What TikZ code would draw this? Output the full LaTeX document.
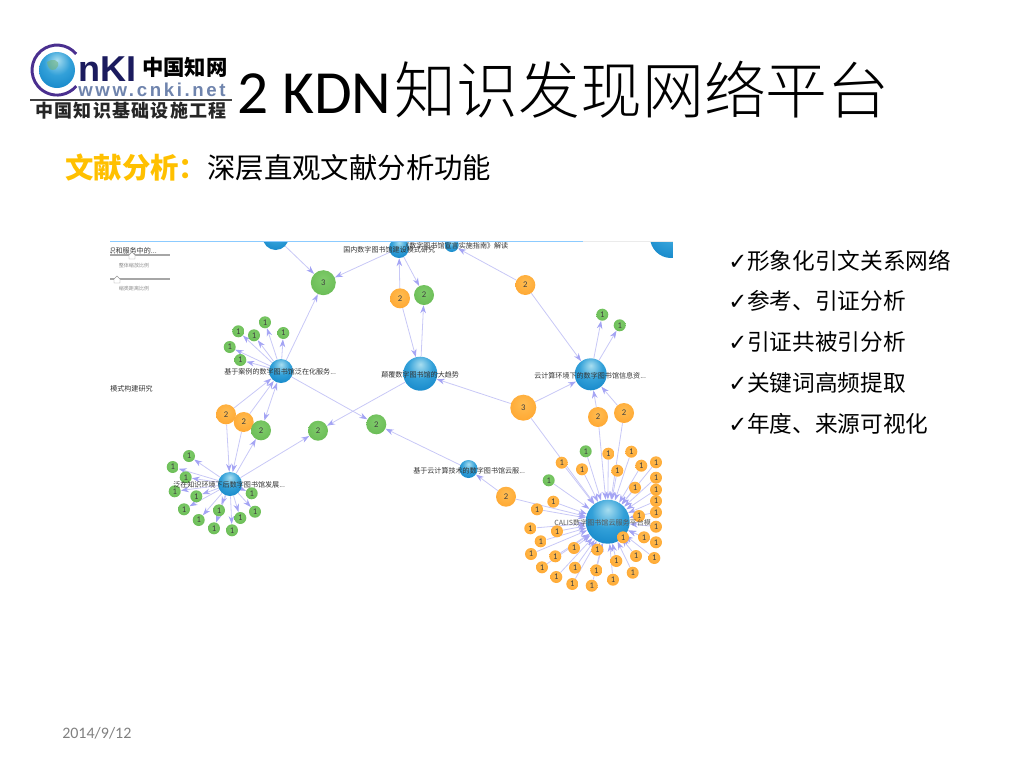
\documentclass[tikz,border=0pt]{standalone}
\usepackage{fontspec}
\usetikzlibrary{arrows.meta,backgrounds}
\setmainfont{Carlito}
\newfontfamily\cjk{Noto Sans CJK SC}
\newfontfamily\cjklight{Noto Sans CJK SC Light}
\newfontfamily\dejavu{DejaVu Sans}
\newfontfamily\libsans{Liberation Sans}
\definecolor{gold}{HTML}{FFC000}
\definecolor{edgecol}{HTML}{C8C8F6}
\definecolor{tipcol}{HTML}{A4A4F4}
\definecolor{logoviolet}{HTML}{4A2F8F}
\definecolor{logonavy}{HTML}{1B1B5E}
\definecolor{logourl}{HTML}{6F84AD}
\pgfdeclareradialshading{bluebub}{\pgfpoint{0bp}{14bp}}{rgb(0bp)=(.66,.87,.94);rgb(18bp)=(.2,.63,.85);rgb(45bp)=(.02,.48,.76);rgb(80bp)=(.02,.48,.76)}
\pgfdeclareradialshading{greenbub}{\pgfpoint{0bp}{8bp}}{rgb(0bp)=(.50,.80,.42);rgb(30bp)=(.42,.74,.34);rgb(70bp)=(.36,.70,.30)}
\pgfdeclareradialshading{orangebub}{\pgfpoint{0bp}{8bp}}{rgb(0bp)=(1,.74,.32);rgb(30bp)=(1,.66,.20);rgb(70bp)=(1,.62,.14)}
\tikzset{
  x=0.75pt,y=-0.75pt,
  bub/.style={circle,inner sep=0pt,text=black!75,font=\fontsize{6.5}{6.5}\selectfont},
  bluehub/.style={bub,shading=bluebub,minimum size=#1*1.5pt},
  greenb/.style={bub,shading=greenbub,minimum size=#1*1.5pt},
  orangeb/.style={bub,shading=orangebub,minimum size=#1*1.5pt},
  edge/.style={draw=edgecol,line width=0.6pt,-{Stealth[length=6pt,width=4.2pt,color=tipcol]}},
  biedge/.style={draw=edgecol,line width=0.6pt,{Stealth[length=6pt,width=4.2pt,color=tipcol]}-{Stealth[length=6pt,width=4.2pt,color=tipcol]}},
  lab/.style={inner sep=0pt,text=black!80,font=\cjk\fontsize{5.3}{5.3}\selectfont},
  slidertext/.style={inner sep=0pt,text=black!45,font=\cjk\fontsize{3.8}{4}\selectfont},
  sliderline/.style={draw=black!35,line width=0.8pt},
  bullet/.style={inner sep=0pt,anchor=west,font=\cjk\fontsize{17}{17}\selectfont},
}
\begin{document}
\begin{tikzpicture}
\useasboundingbox (0,0) rectangle (1024,768);

% ---------- hubs
\node[bluehub=13] (tophub) at (275.7,237) {};
\node[bluehub=10] (guonei) at (399,248) {};
\node[bluehub=7]  (xuanyan) at (451.7,245) {};
\node[bluehub=21] (corner) at (671,237) {};
\node[bluehub=12] (fanzai) at (281,371) {};
\node[bluehub=17] (dianfu) at (420.3,373.7) {};
\node[bluehub=16] (yunji) at (590.7,374.3) {};
\node[bluehub=9]  (yunfu) at (468.5,469) {};
\node[bluehub=12] (houshuzi) at (230,484) {};
\node[bluehub=22] (calis) at (607.7,521.7) {};

% ---------- larger numbered nodes
\node[greenb=12.5] (gthree) at (323.3,282.7) {3};
\node[orangeb=10] (otop) at (400,298.3) {2};
\node[greenb=10] (gtop) at (424,295) {2};
\node[orangeb=10] (oright) at (525.3,285) {2};
\node[orangeb=13] (othree) at (523.3,407.7) {3};
\node[orangeb=10] (oa) at (598,417) {2};
\node[orangeb=10] (ob) at (624,413) {2};
\node[orangeb=10] (oc) at (226,414.3) {2};
\node[orangeb=10] (od) at (243.7,422) {2};
\node[greenb=10] (ga) at (261,430.3) {2};
\node[greenb=10] (gb) at (318,430.7) {2};
\node[greenb=10] (gc) at (376.3,424.3) {2};
\node[orangeb=10] (oe) at (506,496.7) {2};

% ---------- small leaves
\foreach \x/\y [count=\n] in {265/322.3,238.3/331.3,254/335.3,283.3/333,229.7/347,240.3/360}
  \node[greenb=6] (fl\n) at (\x,\y) {1};
\foreach \x/\y [count=\n] in {602.3/314.7,619.7/325.3}
  \node[greenb=6] (yl\n) at (\x,\y) {1};
\foreach \x/\y [count=\n] in {189/456,172.7/467,185.7/477.3,174.7/491.3,196.3/496.3,184/509.3,198.7/520,214/528.3,219/510.3,232/530.3,240.3/518,255/511.7,251.7/493.3}
  \node[greenb=6] (hl\n) at (\x,\y) {1};
\foreach \x/\y [count=\n] in {585.7/451.3,548.7/480.3}
  \node[greenb=6] (cg\n) at (\x,\y) {1};
\foreach \x/\y [count=\n] in {561.7/462.7,608.3/453.7,631.3/451.7,656/462.3,641.3/465.7,582/469.3,617.3/470.7,656/477.7,635/487.7,656/489.7,656/501,553.3/501.7,537/509.3,656/512.3,639/516,656/526.7,530.3/528.3,557/531.3,644/537.3,623/537.3,540.7/541.3,656/542.3,574/548,597.3/549.7,531/554,555.3/556.3,636/556,654.3/558,616.3/561,542/567.3,575/567.7,596.3/570.3,632.7/572.7,556.3/577,613/579.7,572.3/584,591.7/585.7}
  \node[orangeb=6] (cl\n) at (\x,\y) {1};

% ---------- connectors
\begin{pgfonlayer}{background}
\foreach \n in {1,...,6} \draw[edge] (fanzai) -- (fl\n);
\foreach \n in {1,2} \draw[edge] (yunji) -- (yl\n);
\foreach \n in {1,...,13} \draw[edge] (houshuzi) -- (hl\n);
\foreach \n in {1,2} \draw[edge] (cg\n) -- (calis);
\foreach \n in {1,...,37} \draw[edge] (cl\n) -- (calis);
\draw[edge] (tophub) -- (gthree);
\draw[edge] (guonei) -- (gthree);
\draw[edge] (fanzai) -- (gthree);
\draw[edge] (otop) -- (guonei);
\draw[edge] (guonei) -- (gtop);
\draw[edge] (otop) -- (dianfu);
\draw[edge] (dianfu) -- (gtop);
\draw[edge] (oright) -- (xuanyan);
\draw[edge] (oright) -- (yunji);
\draw[edge] (othree) -- (dianfu);
\draw[edge] (othree) -- (yunji);
\draw[edge] (othree) -- (calis);
\draw[edge] (oa) -- (yunji);
\draw[edge] (ob) -- (yunji);
\draw[edge] (oa) -- (calis);
\draw[edge] (ob) -- (calis);
\draw[edge] (oc) -- (fanzai);
\draw[edge] (od) -- (fanzai);
\draw[biedge] (fanzai) -- (ga);
\draw[edge] (oc) -- (houshuzi);
\draw[edge] (od) -- (houshuzi);
\draw[edge] (houshuzi) -- (ga);
\draw[edge] (houshuzi) -- (gb);
\draw[edge] (dianfu) -- (gb);
\draw[edge] (fanzai) -- (gc);
\draw[edge] (yunfu) -- (gc);
\draw[edge] (oe) -- (yunfu);
\draw[edge] (oe) -- (calis);
\end{pgfonlayer}

% ---------- graph labels
\node[lab,anchor=east] (tl) at (157,251) {知识和服务中的...};
\node[lab,anchor=west] (tg) at (343,250) {国内数字图书馆建设模式研究};
\node[lab,anchor=west] (tx) at (402,246) {《数字图书馆宣言实施指南》解读};
\node[lab,anchor=west] (tf) at (224,372) {基于案例的数字图书馆泛在化服务...};
\node[lab,anchor=west] (td) at (381,375) {颠覆数字图书馆的大趋势};
\node[lab,anchor=west] (ty) at (534,376) {云计算环境下的数字图书馆信息资...};
\node[lab,anchor=west] (tm) at (110,389) {模式构建研究};
\node[lab,anchor=west] (tu) at (413,471) {基于云计算技术的数字图书馆云服...};
\node[lab,anchor=west] (th) at (173,485) {泛在知识环境下后数字图书馆发展...};
\node[lab,anchor=west,text=black!65] (tc) at (554,523) {CALIS数字图书馆云服务平台模};

% ---------- masks that crop the screenshot
\fill[white] (95,205) rectangle (700,241);
\fill[white] (673,205) rectangle (700,300);
\fill[white] (90,241) rectangle (110,262);
\draw[draw=black!8,line width=0.4pt] (110,241.3) -- (673,241.3);
\draw[draw=blue!45!cyan!45,line width=0.6pt] (110,241.3) -- (583,241.3);

% ---------- sliders
\coordinate (s1a) at (110,255); \coordinate (s1b) at (170,255);
\coordinate (s2a) at (110,279); \coordinate (s2b) at (170,279);
\draw[sliderline] (s1a) -- (s1b);
\draw[sliderline] (s2a) -- (s2b);
\fill[white,draw=black!40,line width=0.3pt] (129,259) -- (135,259) -- (135,255) -- (132,252) -- (129,255) -- cycle;
\fill[white,draw=black!40,line width=0.3pt] (114,283) -- (120,283) -- (120,279) -- (117,276) -- (114,279) -- cycle;
\node[slidertext] (s1t) at (134,265.5) {整体缩放比例};
\node[slidertext] (s2t) at (134,289) {缩类距离比例};

% ---------- title and subtitle
\node[inner sep=0pt,anchor=west,font=\fontsize{46}{46}\selectfont] (title) at (237,90) {2 KDN\kern2.5pt{\cjklight\fontsize{46.4}{46}\selectfont 知识发现网络平台}};
\node[inner sep=0pt,anchor=west,font=\cjk\fontsize{21.3}{21.3}\selectfont] (sub) at (65,168) {\textcolor{gold}{\bfseries 文献分析：}深层直观文献分析功能};

% ---------- bullet list
\node[bullet] (b1) at (728,261) {{\dejavu ✓}形象化引文关系网络};
\node[bullet] (b2) at (728,301) {{\dejavu ✓}参考、引证分析};
\node[bullet] (b3) at (728,342) {{\dejavu ✓}引证共被引分析};
\node[bullet] (b4) at (728,383) {{\dejavu ✓}关键词高频提取};
\node[bullet] (b5) at (728,424) {{\dejavu ✓}年度、来源可视化};

% ---------- date
\node[inner sep=0pt,anchor=west,text=black!50,font=\fontsize{12}{12}\selectfont] (date) at (62,733) {2014/9/12};

% ---------- logo
\draw[logoviolet,line width=2.2pt] (76.2,54) arc[start angle=-40,end angle=-320,radius=25];
\shade[shading=bluebub] (57,70) circle (18);
\fill[green!45!black!55,opacity=.55] (47,62) .. controls (52,58) and (60,60) .. (58,66) .. controls (56,72) and (48,72) .. cycle;
\node[inner sep=0pt,anchor=base west,text=logonavy,font=\libsans\bfseries\fontsize{27}{27}\selectfont] (lognki) at (78,81) {nKI};
\node[inner sep=0pt,anchor=west,font=\cjk\bfseries\fontsize{16}{16}\selectfont] (logcn) at (142,67) {中国知网};
\node[inner sep=0pt,anchor=base west,text=logourl,font=\libsans\bfseries\fontsize{14}{14}\selectfont] (logurl) at (78,96) {\addfontfeatures{LetterSpace=14}www.cnki.net};
\coordinate (lla) at (30,100); \coordinate (llb) at (232,100);
\draw[black!75,line width=0.8pt] (lla) -- (llb);
\node[inner sep=0pt,anchor=west,text=black!85,font=\cjk\bfseries\fontsize{13.5}{13.5}\selectfont] (logb) at (35,110.5) {\addfontfeatures{LetterSpace=7}中国知识基础设施工程};
\end{tikzpicture}
\end{document}
